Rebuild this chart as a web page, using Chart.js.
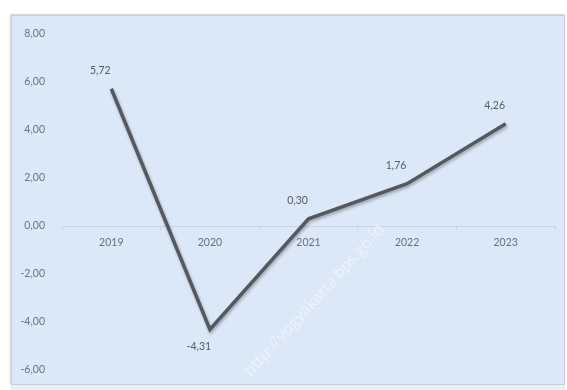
<!DOCTYPE html>
<html>
<head>
<meta charset="utf-8">
<script src="https://cdn.jsdelivr.net/npm/chart.js@4.4.1/dist/chart.umd.min.js"></script>
<style>
  html, body { margin: 0; padding: 0; background: #ffffff; }
  #wrap { position: relative; width: 567px; height: 390px; overflow: hidden; }
  #panel { position: absolute; left: 11px; top: 15px; width: 552px; height: 368px;
           background: #dbe8f7; border: 1px solid #c4d0dc;
           box-shadow: -1px 0 2px rgba(120,130,140,0.35), 0 -1px 1px rgba(200,200,200,0.5); }
  #below { position: absolute; left: 11px; top: 385px; width: 554px; height: 5px; background: #e8f0f9; }
  canvas { position: absolute; left: 0; top: 0; }
</style>
</head>
<body>
<div id="wrap">
  <div id="panel"></div>
  <div id="below"></div>
  <canvas id="c" width="567" height="390"></canvas>
</div>
<script>
const years = ['2019', '2020', '2021', '2022', '2023'];
const growth = [5.72, -4.31, 0.30, 1.76, 4.26];
const yTicks = [-6, -4, -2, 0, 2, 4, 6, 8];

const fmt = v => Number(v).toFixed(2).replace('.', ',');
const FONT = 'Lato, "Open Sans", "DejaVu Sans", sans-serif';
const TXT = '#6a7179';

const shadowPlugin = {
  id: 'lineShadow',
  beforeDatasetDraw(chart) {
    const ctx = chart.ctx;
    ctx.save();
    ctx.shadowColor = 'rgba(40,40,40,0.35)';
    ctx.shadowBlur = 3;
    ctx.shadowOffsetX = 1;
    ctx.shadowOffsetY = 2;
  },
  afterDatasetDraw(chart) { chart.ctx.restore(); }
};

const labelPlugin = {
  id: 'valueLabels',
  afterDatasetsDraw(chart) {
    const ctx = chart.ctx;
    const meta = chart.getDatasetMeta(0);
    ctx.save();
    ctx.font = '10.5px ' + FONT;
    ctx.fillStyle = '#565c63';
    ctx.textAlign = 'center';
    ctx.textBaseline = 'middle';
    meta.data.forEach((pt, i) => {
      const v = growth[i];
      const dy = v < 0 ? 17 : -18;
      ctx.fillText(fmt(v), pt.x - 11, pt.y + dy);
    });
    ctx.restore();
  }
};

const watermarkPlugin = {
  id: 'watermark',
  beforeDatasetsDraw(chart) {
    const ctx = chart.ctx;
    ctx.save();
    ctx.translate(314, 300);
    ctx.rotate(-0.83);
    ctx.font = '17px ' + FONT;
    ctx.fillStyle = 'rgba(255,255,255,0.45)';
    ctx.textAlign = 'center';
    ctx.textBaseline = 'middle';
    ctx.fillText('http://yogyakarta.bps.go.id', 0, 0);
    ctx.restore();
  }
};

new Chart(document.getElementById('c'), {
  type: 'line',
  data: {
    labels: years,
    datasets: [{
      data: growth,
      borderColor: '#54595e',
      borderWidth: 3.5,
      pointRadius: 0,
      tension: 0,
      fill: false
    }]
  },
  options: {
    responsive: false,
    animation: false,
    layout: { padding: { left: 0, right: 12, top: 34, bottom: 20 } },
    plugins: { legend: { display: false }, tooltip: { enabled: false } },
    scales: {
      x: {
        type: 'category',
        position: { y: 0 },
        offset: true,
        grid: { display: true, drawOnChartArea: false, drawTicks: true, tickLength: 3, color: '#c9d5e2', offset: true },
        border: { display: true, color: '#c9d5e2', width: 1 },
        ticks: { color: TXT, font: { family: FONT, size: 10.5 }, padding: 7, maxRotation: 0 }
      },
      y: {
        min: -6,
        max: 8,
        afterBuildTicks(scale) { scale.ticks = yTicks.map(v => ({ value: v })); },
        afterFit(scale) { scale.width = 62; },
        grid: { display: false },
        border: { display: false },
        ticks: { color: TXT, font: { family: FONT, size: 10.5 }, padding: 9, callback: v => fmt(v) }
      }
    }
  },
  plugins: [shadowPlugin, labelPlugin, watermarkPlugin]
});
</script>
</body>
</html>
